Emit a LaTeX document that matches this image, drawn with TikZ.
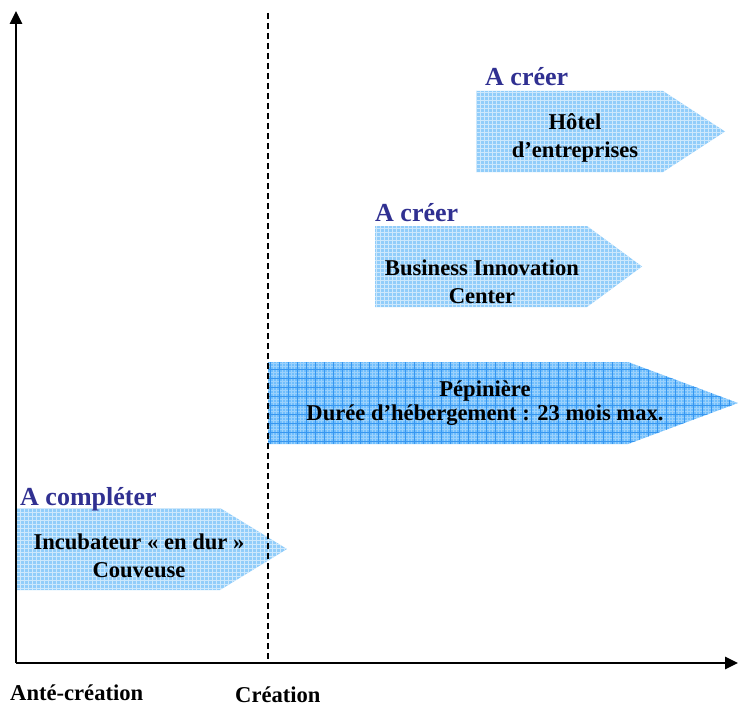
\documentclass[tikz,border=0pt]{standalone}
\usepackage{fontspec}
\setmainfont{Liberation Serif}
\usetikzlibrary{arrows.meta,positioning}
\definecolor{bleuclair}{RGB}{145,205,250}
\definecolor{bleu}{RGB}{112,190,252}
\definecolor{bleugrille}{RGB}{55,150,240}
\definecolor{violet}{RGB}{48,48,145}

\begin{document}
\begin{tikzpicture}[x=1pt,y=-1pt,
	axe/.style={line width=2.7pt,-{Triangle[length=13pt,width=12pt]}},
	titre/.style={font=\bfseries\fontsize{26}{30}\selectfont,text=violet,anchor=base west,inner sep=0},
	texte/.style={font=\bfseries\fontsize{22.6}{28}\selectfont,align=center,inner sep=0},
	]
	\useasboundingbox (0,0) rectangle (738,706);

	% fleches claires
	\foreach \g/\h/\c/\p/\b in {476/91/663/725/172, 375/226/587/642/307, 17/508/220/287/590} {
			\fill[bleuclair] (\g,\h) -- (\c,\h) -- (\p,{(\h+\b)/2}) -- (\c,\b) -- (\g,\b) -- cycle;
			\begin{scope}
				\clip (\g,\h) -- (\c,\h) -- (\p,{(\h+\b)/2}) -- (\c,\b) -- (\g,\b) -- cycle;
				\draw[white,line width=.9pt,opacity=.55,step=4pt] (\g,\h) grid (\p,\b);
			\end{scope}
		}

	% pepiniere
	\fill[bleu] (268,362) -- (628,362) -- (738,403) -- (628,444) -- (268,444) -- cycle;
	\begin{scope}
		\clip (268,362) -- (628,362) -- (738,403) -- (628,444) -- (268,444) -- cycle;
		\draw[white,line width=.6pt,opacity=.3,step=3pt] (268,362) grid (738,444);
		\draw[bleugrille,line width=1pt,step=9pt] (268,362) grid (738,444);
	\end{scope}

	% axes
	\coordinate (O) at (16,663);
	\coordinate (haut) at (16,11);
	\coordinate (droite) at (738,663);
	\coordinate (c1) at (268,13);
	\coordinate (c2) at (268,663);
	\draw[axe] (O) -- (haut);
	\draw[axe] (O) -- (droite);
	\draw[line width=1.6pt,dash pattern=on 6pt off 4pt] (c1) -- (c2);

	\node[titre] (creerA) at (485,86) {A créer};
	\node[titre] (creerB) at (375,221) {A créer};
	\node[titre] (completer) at (20,505) {A compléter};

	\node[texte] (hotel) at (575,137.5) {Hôtel\\d’entreprises};
	\node[texte] (bic) at (482,282) {Business Innovation\\Center};
	\node[texte,font=\bfseries\fontsize{22.6}{23.5}\selectfont] (pepiniere) at (485,403) {Pépinière\\Durée d’hébergement : 23 mois max.};
	\node[texte] (incubateur) at (139,556) {Incubateur « en dur »\\Couveuse};

	\node[texte,anchor=base west] (ante) at (10,700) {Anté-création};
	\node[texte,anchor=base west] (creation) at (235,702) {Création};
\end{tikzpicture}
\end{document}
